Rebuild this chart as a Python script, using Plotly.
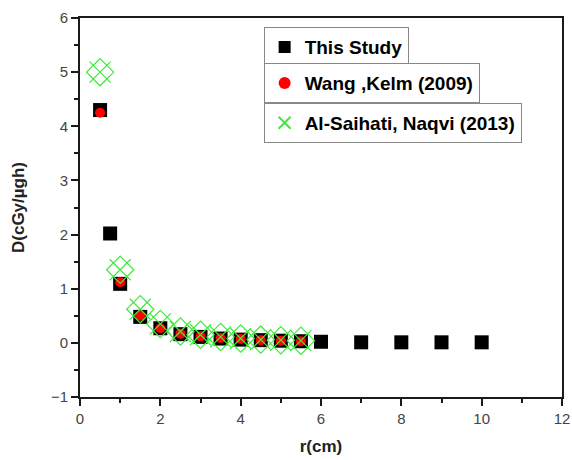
import plotly.graph_objects as go

r_study = [0.5, 0.75, 1, 1.5, 2, 2.5, 3, 3.5, 4, 4.5, 5, 5.5, 6, 7, 8, 9, 10]
d_study = [4.3, 2.02, 1.09, 0.48, 0.27, 0.16, 0.11, 0.08, 0.06, 0.05, 0.04, 0.03, 0.02, 0.01, 0.01, 0.01, 0.01]

r_wang = [0.5, 1, 1.5, 2, 2.5, 3, 3.5, 4, 4.5, 5, 5.5]
d_wang = [4.25, 1.12, 0.5, 0.27, 0.17, 0.12, 0.09, 0.07, 0.05, 0.04, 0.03]

r_als = [0.5, 1, 1.5, 2, 2.5, 3, 3.5, 4, 4.5, 5, 5.5]
d_als = [5.0, 1.35, 0.62, 0.35, 0.21, 0.15, 0.11, 0.08, 0.06, 0.05, 0.04]

names = ["This Study", "Wang ,Kelm (2009)", "Al-Saihati, Naqvi (2013)"]

x_major = [0, 2, 4, 6, 8, 10, 12]
y_major = [-1, 0, 1, 2, 3, 4, 5, 6]

GREEN = "#3dea3d"
AX = "#1a1a1a"

fig = go.Figure()
fig.add_trace(go.Scatter(x=r_study, y=d_study, mode="markers", name=names[0],
                         marker=dict(symbol="square", size=14, color="black"),
                         legend="legend"))
fig.add_trace(go.Scatter(x=r_wang, y=d_wang, mode="markers", name=names[1],
                         marker=dict(symbol="circle", size=10, color="red"),
                         legend="legend2"))
fig.add_trace(go.Scatter(x=r_als, y=d_als, mode="markers", name=names[2],
                         marker=dict(symbol="x-thin-open", size=21, color=GREEN,
                                     line=dict(color=GREEN, width=1.2)),
                         legend="legend3"))
fig.add_trace(go.Scatter(x=r_als, y=d_als, mode="markers", name=names[2],
                         marker=dict(symbol="diamond-open", size=21, color=GREEN,
                                     line=dict(color=GREEN, width=1.2)),
                         showlegend=False, hoverinfo="skip"))

legfont = dict(family="Liberation Sans, Arial", size=19, color="black", weight="bold")
def leg(y):
    return dict(x=0.381, y=y, xanchor="left", yanchor="top", font=legfont,
                bordercolor="#888", borderwidth=1, bgcolor="white",
                itemsizing="constant", tracegroupgap=0)

titlefont = dict(family="Liberation Sans, Arial", size=17, color="#222", weight="bold")
tickfont = dict(family="Liberation Sans, Arial", size=15, color="#444")

fig.update_layout(
    width=572, height=460,
    margin=dict(l=80, r=10, t=18, b=63),
    plot_bgcolor="white", paper_bgcolor="white",
    showlegend=True,
    legend=leg(0.976),
    legend2=leg(0.881),
    legend3=leg(0.776),
)
axis_common = dict(automargin=False, showline=True, linecolor=AX, linewidth=2, mirror=True,
                   ticks="outside", ticklen=7, tickwidth=2, tickcolor=AX,
                   showgrid=False, zeroline=False, tickfont=tickfont,
                   ticklabeloverflow="allow")
fig.update_xaxes(range=[0, 12], tickvals=x_major,
                 minor=dict(dtick=1, ticks="outside", ticklen=4, tickwidth=2, tickcolor=AX),
                 title_text="r(cm)", title_font=titlefont, title_standoff=14, **axis_common)
fig.update_yaxes(range=[-1, 6], tickvals=y_major,
                 minor=dict(dtick=0.5, ticks="outside", ticklen=4, tickwidth=2, tickcolor=AX),
                 title_text="D(cGy/µgh)", title_font=titlefont, title_standoff=22, **axis_common)

fig.write_html("out.html", config={"displayModeBar": False},
               post_script="document.body.style.margin='0px';document.body.style.padding='0px';")
